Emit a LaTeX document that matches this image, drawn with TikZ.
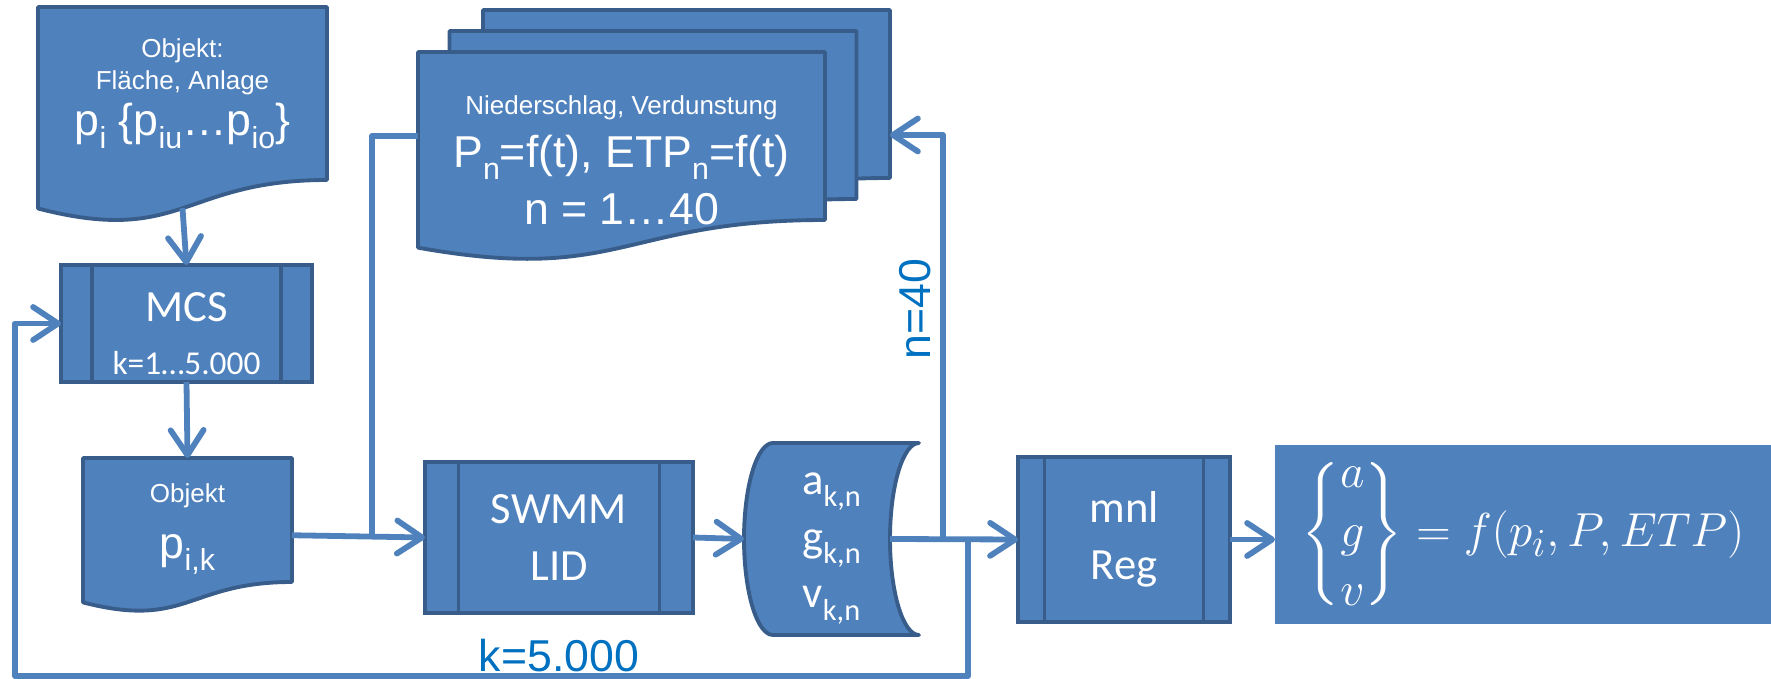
\documentclass[tikz,border=0pt]{standalone}
\usepackage{amsmath}
\usepackage{fontspec}
\setmainfont{Liberation Sans}
\newfontfamily\calibri{Carlito}
\usetikzlibrary{arrows.meta,positioning,calc,backgrounds}
\definecolor{FlowBlue}{HTML}{4F81BD}
\definecolor{FlowEdge}{HTML}{385D8A}
\definecolor{FlowLabel}{HTML}{0070C0}
\newcommand{\smallsz}{\fontsize{14.8}{18}\selectfont}
\newcommand{\bigsz}{\fontsize{25.4}{32.4}\selectfont}
\newcommand{\lowsub}[1]{\raisebox{-0.28em}{\scalebox{0.68}{#1}}}
\newcommand{\docoutline}[1]{%
  \filldraw[docfill] (#1.north west) -- (#1.north east) -- (#1.south east)
    .. controls (#1.south) and ($(#1.north)!1.381!(#1.south)$)
    .. ($(#1.north west)!1.1646!(#1.south west)$) -- cycle;}
\tikzset{
  procbox/.style={draw=FlowEdge, fill=FlowBlue, line width=2.2pt, outer sep=0pt,
                  inner sep=0pt, align=center, text=white, font=\calibri\bigsz,
                  path picture={\draw[FlowEdge, line width=2.2pt]
                    ($(path picture bounding box.north west)!0.125!(path picture bounding box.north east)$) --
                    ($(path picture bounding box.south west)!0.125!(path picture bounding box.south east)$)
                    ($(path picture bounding box.north east)!0.125!(path picture bounding box.north west)$) --
                    ($(path picture bounding box.south east)!0.125!(path picture bounding box.south west)$);}},
  docbox/.style={outer sep=0pt, inner sep=0pt, align=center, text=white},
  docfill/.style={draw=FlowEdge, fill=FlowBlue, line width=2.2pt, line join=round},
  resultbox/.style={fill=FlowBlue, outer sep=0pt, inner sep=0pt, text=white},
  flow/.style={-{Straight Barb[length=5mm,width=6.6mm,round]}, line width=3.3pt,
               line join=round, FlowBlue},
  link/.style={line width=3.3pt, line join=round, FlowBlue},
  looplabel/.style={font=\bigsz, text=FlowLabel, inner sep=0pt},
}

\begin{document}
\begin{tikzpicture}
  \useasboundingbox (0,0) rectangle (35.42,-13.58);

  % Objekt and Monte-Carlo loop
  \node[docbox, minimum width=5.78cm, minimum height=3.46cm, font=\smallsz] (objdoc) at (3.65,-1.87)
        {Objekt:\\Fläche, Anlage\\[4pt]{\bigsz p\lowsub{i} \{p\lowsub{iu}…p\lowsub{io}\}}};
  \node[procbox, minimum width=5.02cm, minimum height=2.34cm] (mcs) at (3.73,-6.47)
        {\rule{0pt}{27.8pt}MCS\\[-2.5pt]{\fontsize{19}{23}\selectfont k=1…5.000}};
  \node[docbox, minimum width=4.18cm, minimum height=2.48cm, font=\smallsz] (objk) at (3.75,-10.40)
        {\rule{0pt}{21pt}Objekt\\[14pt]{\bigsz p\lowsub{i,k}}};

  % Niederschlag stack
  \node[docbox, minimum width=8.14cm, minimum height=3.36cm] (rain3) at (13.73,-1.88) {};
  \node[docbox, minimum width=8.14cm, minimum height=3.36cm] (rain2) at (13.06,-2.30) {};
  \node[docbox, minimum width=8.14cm, minimum height=3.36cm] (rain) at (12.43,-2.72) {};
  \node[docbox, font=\bigsz] (raintxt) at ($(rain.center)+(0,-0.48)$)
        {{\smallsz Niederschlag, Verdunstung}\\[-2pt]P\lowsub{n}=f(t), ETP\lowsub{n}=f(t)\\n = 1…40};

  % Simulation and regression
  \node[procbox, minimum width=5.36cm, minimum height=3.02cm] (swmm) at (11.18,-10.75) {SWMM\\LID};
  \node[docbox, minimum width=3.50cm, minimum height=3.84cm, font=\calibri\bigsz] (store) at (16.63,-10.78)
        {\rule{0pt}{23pt}a\lowsub{k,n}\\g\lowsub{k,n}\\v\lowsub{k,n}};
  \node[procbox, minimum width=4.24cm, minimum height=3.30cm] (reg) at (22.48,-10.79) {mnl\\Reg};
  \node[resultbox, minimum width=9.92cm, minimum height=3.58cm, font=\fontsize{24.88}{29.86}\selectfont] (result) at (30.46,-10.69)
        {\scalebox{1.09}{\renewcommand{\arraystretch}{1.03}$\left\{\vphantom{\rule[-29.5pt]{0pt}{42pt}}\smash{\begin{matrix} a\\ g\\ v\end{matrix}}\right\} = f(p_i,P,ETP)$}};

  \begin{scope}[on background layer]
    \docoutline{rain3}
    \docoutline{rain2}
    \docoutline{rain}
    \docoutline{objdoc}
    \docoutline{objk}
    \filldraw[docfill] ($(store.north west)+(0.58,0)$) -- (store.north east)
      arc[start angle=90, end angle=270, x radius=0.58cm, y radius=1.92cm]
      -- ($(store.south west)+(0.58,0)$)
      arc[start angle=270, end angle=90, x radius=0.58cm, y radius=1.92cm] -- cycle;
  \end{scope}

  % connectors
  \coordinate (objdocS) at ($(objdoc.north)!1.163!(objdoc.south)$);
  \coordinate (objkE) at ($(objk.north east)!0.623!(objk.south east)$);
  \coordinate (storeE) at ($(store.east)+(-0.58,0)$);
  \coordinate (split1) at ($(objkE)!0.6!(swmm.west)$);
  \coordinate (split2) at ($(storeE)!0.414!(reg.west)$);
  \coordinate (split3) at ($(storeE)!0.61!(reg.west)$);
  \coordinate (rainin) at ([yshift=-8.2mm]rain3.east);
  \coordinate (loopsw) at (0.30,-13.52);

  \draw[flow] (objdocS) -- (mcs.north);
  \draw[flow] (mcs.south) -- (objk.north);
  \draw[flow] (objkE) -- (swmm.west);
  \draw[link] (split1) |- (rain.west);
  \draw[flow] (swmm.east) -- (store.west);
  \draw[flow] (storeE) -- (reg.west);
  \draw[flow] (split2) |- (rainin);
  \draw[flow] (split3) |- (loopsw) |- (mcs.west);
  \draw[flow] (reg.east) -- (reg.east -| result.west);

  \node[looplabel, rotate=90] (nlabel) at (18.30,-6.18) {n=40};
  \node[looplabel] (klabel) at (11.18,-13.11) {k=5.000};
\end{tikzpicture}
\end{document}
